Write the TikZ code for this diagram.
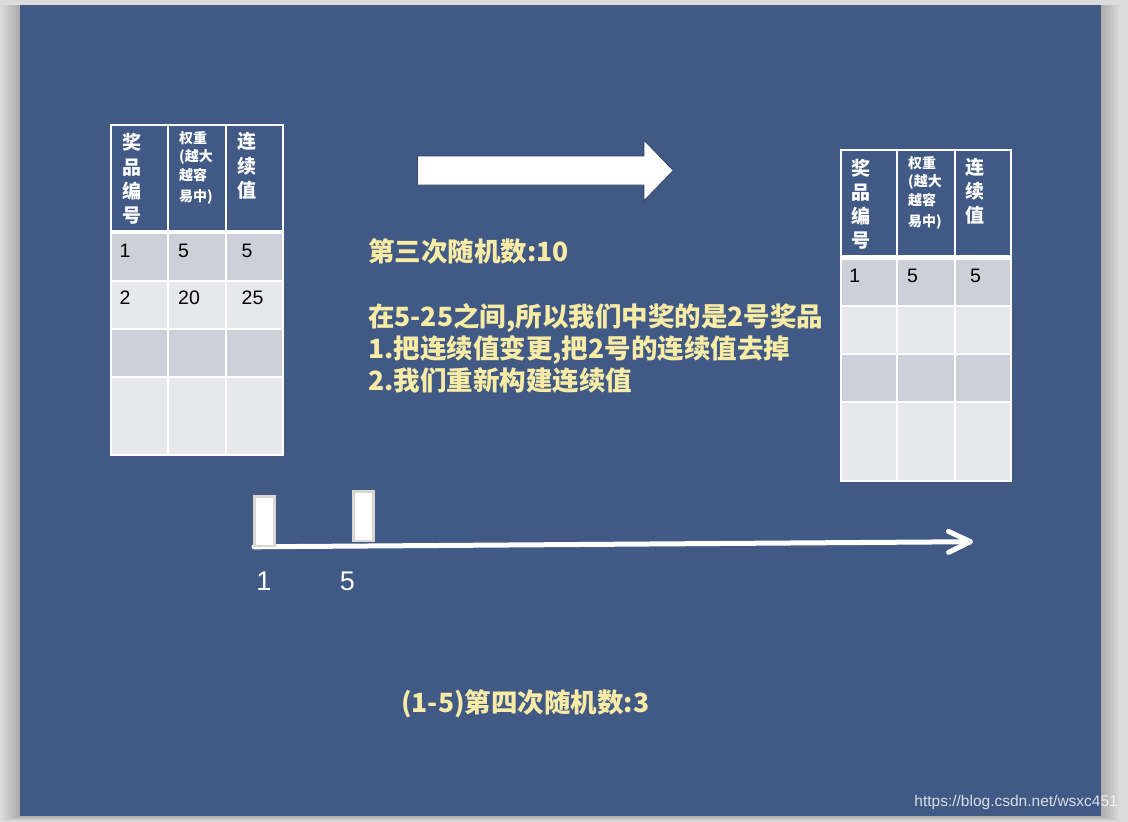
\documentclass[tikz,border=0pt]{standalone}
\usepackage{fontspec}
\setmainfont{Liberation Sans}
\newfontfamily\cjk{Noto Sans CJK SC}
\usetikzlibrary{arrows.meta}
\definecolor{slideblue}{HTML}{405A85}
\definecolor{rowdark}{HTML}{CDD0D9}
\definecolor{rowlight}{HTML}{E7E8EC}
\definecolor{txtyellow}{HTML}{F7EBA5}
\definecolor{outergrey}{HTML}{DCDCDC}
\definecolor{barborder}{HTML}{D9D7D0}
\definecolor{arrowedge}{HTML}{2E4266}
\tikzset{
  gridline/.style={draw=white, line width=2pt},
  hdr/.style={text=white, font=\cjk\bfseries\fontsize{19}{24.3}\selectfont, align=center, inner sep=0pt},
  hdrsmall/.style={text=white, font=\cjk\bfseries\fontsize{14}{18.5}\selectfont, align=left, inner sep=0pt, anchor=west},
  num/.style={text=black, font=\fontsize{19.5}{21}\selectfont, anchor=base west, inner sep=0pt},
  note/.style={text=txtyellow, font=\cjk\bfseries\fontsize{26.5}{32}\selectfont, align=left, anchor=west, inner sep=0pt},
  axislabel/.style={text=white, font=\fontsize{27}{30}\selectfont, inner sep=0pt},
  bar/.style={draw=barborder, fill=white, line width=2.4pt, minimum width=19.9pt, minimum height=49.8pt, inner sep=0pt},
  bigarrow/.style={fill=white, draw=arrowedge, line width=0.8pt, line join=miter},
  timeline/.style={draw=white, line width=5pt, line cap=round, -{Straight Barb[length=22pt, width=21pt, round]}},
  watermark/.style={text=white, text opacity=0.8, font=\fontsize{15.5}{17}\selectfont, anchor=east, inner sep=0pt}
}
% #1 name prefix, #2 origin, #3 xscale
\newcommand\prizetable[3]{%
\begin{scope}[shift={#2}, xscale=#3]
  \fill[rowdark]  (0,107.2) rectangle (172,155.7);
  \fill[rowlight] (0,155.7) rectangle (172,203.7);
  \fill[rowdark]  (0,203.7) rectangle (172,251.7);
  \fill[rowlight] (0,251.7) rectangle (172,330.3);
  \draw[gridline] (0,0) rectangle (172,330.3);
  \draw[gridline] (57,0) -- (57,330.3) (115,0) -- (115,330.3);
  \draw[gridline] (0,155.7) -- (172,155.7) (0,203.7) -- (172,203.7) (0,251.7) -- (172,251.7);
  \draw[gridline, line width=4.3pt] (0,107.2) -- (172,107.2);
  \node[hdr] (#1h1) at (21,54) {奖\\品\\编\\号};
  \node[hdrsmall] (#1h2) at (68,42.5) {权重\\(越大\\越容\\[2.5pt]易中)};
  \node[hdr] (#1h3) at (135.7,41) {连\\续\\值};
  \node[num] (#1a1) at (8.5,132) {1};
  \node[num] (#1b1) at (67,132) {5};
  \node[num] (#1c1) at (130.5,132) {5};
\end{scope}}
\begin{document}
\begin{tikzpicture}[x=1pt, y=-1pt]
  \useasboundingbox (0,0) rectangle (1128,822);
  \fill[outergrey] (0,0) rectangle (1128,822);
  \foreach \k in {2,4,...,18}{
    \fill[black, opacity=0.022] (20-\k,5) rectangle (1101+\k,816+\k/4);
  }
  \fill[slideblue] (20,5) rectangle (1101,816);

  % left table
  \prizetable{L}{(111,125)}{1}
  \node[num] (La2) at (119.5,304.5) {2};
  \node[num] (Lb2) at (178,304.5) {20};
  \node[num] (Lc2) at (241.5,304.5) {25};

  % right table
  \prizetable{R}{(840.7,150.2)}{0.99}

  % block arrow
  \draw[bigarrow] (417.5,156) -- (644,156) -- (644,140.2) -- (673.3,170.5)
        -- (644,200.8) -- (644,185) -- (417.5,185) -- cycle;

  % notes
  \node[note] (n1) at (368,251) {第三次随机数:10};
  \node[note] (n2) at (368,348) {在5-25之间,所以我们中奖的是2号奖品\\1.把连续值变更,把2号的连续值去掉\\2.我们重新构建连续值};
  \node[note] (n3) at (401,704) {(1-5)第四次随机数:3};

  % timeline
  \coordinate (t0) at (254,546.8);
  \coordinate (t1) at (973,541.7);
  \draw[timeline] (t0) -- (t1);
  \node[bar] (b1) at (264.5,521.2) {};
  \node[bar] (b2) at (363.5,516.2) {};
  \node[axislabel] (l1) at (264,581.7) {1};
  \node[axislabel] (l5) at (347.3,581.7) {5};

  \node[watermark] (wm) at (1118,802) {https://blog.csdn.net/wsxc451};
\end{tikzpicture}
\end{document}
